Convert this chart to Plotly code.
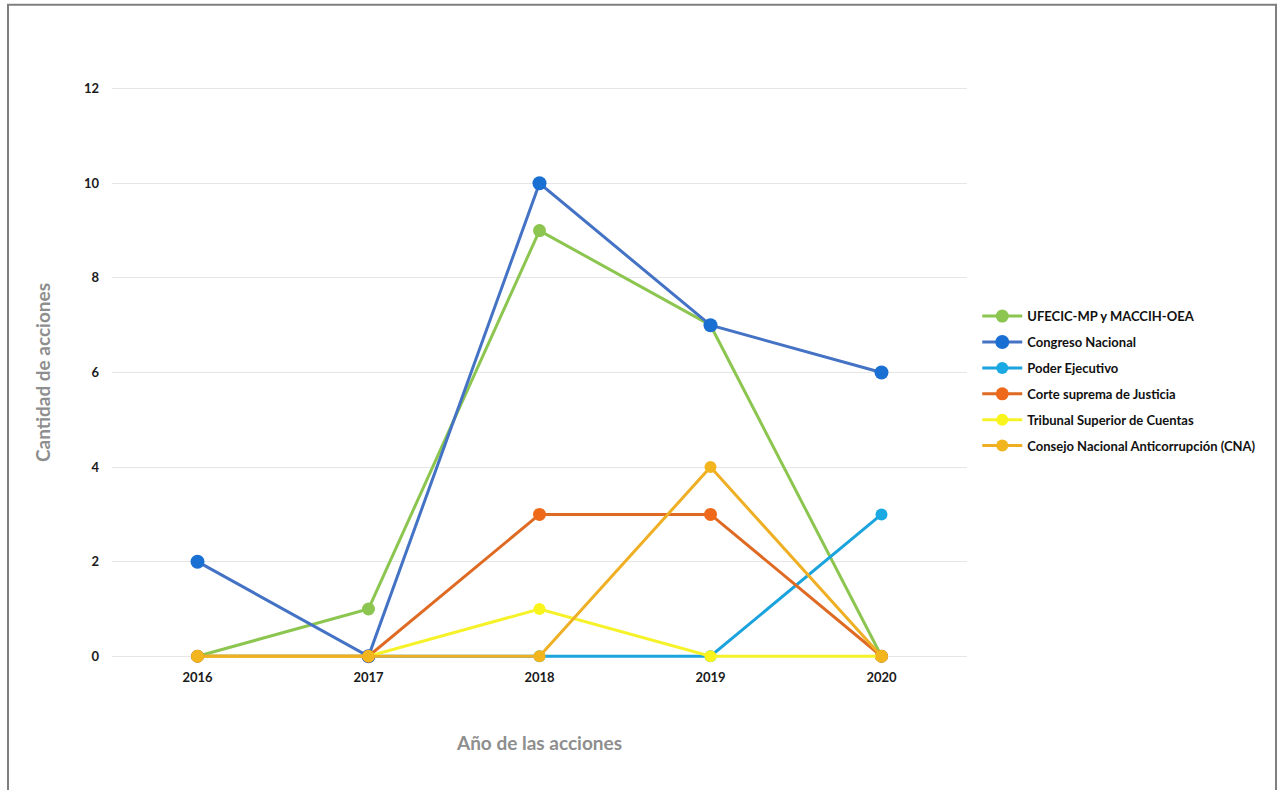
import plotly.graph_objects as go

years = ["2016", "2017", "2018", "2019", "2020"]

series_names = [
    "UFECIC-MP y MACCIH-OEA",
    "Congreso Nacional",
    "Poder Ejecutivo",
    "Corte suprema de Justicia",
    "Tribunal Superior de Cuentas",
    "Consejo Nacional Anticorrupción (CNA)",
]

ufecic = [0, 1, 9, 7, 0]
congreso = [2, 0, 10, 7, 6]
poder_ejecutivo = [0, 0, 0, 0, 3]
corte_suprema = [0, 0, 3, 3, 0]
tribunal = [0, 0, 1, 0, 0]
cna = [0, 0, 0, 4, 0]

series_values = [ufecic, congreso, poder_ejecutivo, corte_suprema, tribunal, cna]
line_colors = ["#8CC54F", "#4472C4", "#1BA3DD", "#DE6A24", "#F6F22A", "#EFAF24"]
marker_colors = ["#8CC54F", "#1A6FD2", "#1BA9E3", "#EE6A1A", "#F9F51C", "#F2B51E"]
marker_sizes = [13, 14, 12, 13, 12, 12]

y_ticks = [0, 2, 4, 6, 8, 10, 12]

fig = go.Figure()
for i, (name, vals) in enumerate(zip(series_names, series_values)):
    fig.add_trace(go.Scatter(
        x=years, y=vals, name=name, mode="lines+markers",
        legendgroup=f"g{i}",
        line=dict(color=line_colors[i], width=3),
        marker=dict(color=marker_colors[i], size=marker_sizes[i]),
        cliponaxis=False,
    ))

gray_title = dict(family="Lato, Open Sans, sans-serif", size=19, color="#8E8E8E")
tick_font = dict(family="Lato, Open Sans, sans-serif", size=13, color="#1a1a1a", weight="bold")

# small padding below 0 / above 12 so lines on the zero line are not clipped
pad = 0.1
unit_px = 567 / 12

fig.update_layout(
    width=1278, height=790,
    margin=dict(l=112, r=311, t=89 - pad * unit_px, b=134 - pad * unit_px),
    paper_bgcolor="white", plot_bgcolor="white",
    showlegend=True,
    legend=dict(
        x=1.012, xanchor="left", y=0.485, yanchor="middle",
        traceorder="grouped", tracegroupgap=6,
        font=dict(family="Lato, Open Sans, sans-serif", size=13, color="#111111", weight="bold"),
        itemwidth=40,
    ),
    xaxis=dict(
        type="category", range=[-0.5, 4.5],
        showgrid=False, zeroline=False, showline=False,
        tickfont=tick_font, ticks="", ticklabelstandoff=7,
        title=dict(text="Año de las acciones", font=dict(**gray_title, weight="bold"), standoff=52),
    ),
    yaxis=dict(
        range=[-pad, 12 + pad], tickvals=y_ticks,
        showgrid=True, gridcolor="#E6E6E6", gridwidth=1,
        zeroline=False, showline=False,
        tickfont=tick_font, ticks="", ticklabelstandoff=12,
        title=dict(text="Cantidad de acciones", font=dict(**gray_title, weight="bold"), standoff=28),
    ),
)

# outer frame around the whole figure
fig.add_shape(
    type="rect", xref="paper", yref="paper",
    x0=(8 - 112) / 855, x1=(1276 - 112) / 855,
    y0=-0.3, y1=(660.7 - 5) / 576.45,
    line=dict(color="#7F7F7F", width=2), fillcolor="rgba(0,0,0,0)", layer="below",
)

fig.write_html("out.html")
